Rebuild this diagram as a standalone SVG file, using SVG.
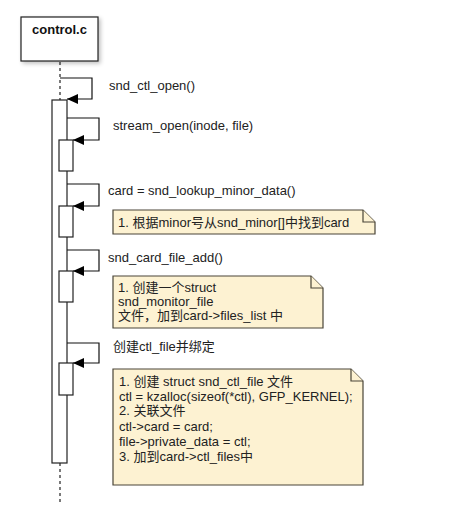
<svg xmlns="http://www.w3.org/2000/svg" width="459" height="505" viewBox="0 0 459 505">
  <style>
    .lbl { font-family: "Liberation Sans", "Noto Sans CJK SC", Arial, sans-serif; font-size: 13px; fill: #222; }
    .hdr { font-family: "Liberation Sans", Arial, sans-serif; font-size: 13px; font-weight: bold; fill: #111; }
    .box { fill: #ffffff; stroke: #222; stroke-width: 1.2; }
    .note { fill: #fdf2d2; stroke: #4a4538; stroke-width: 1.2; }
    .msg { fill: none; stroke: #111; stroke-width: 1.2; }
    .life { stroke: #222; stroke-width: 1.2; stroke-dasharray: 3 3; }
  </style>
  <defs>
    <filter id="shadow" x="-20%" y="-20%" width="150%" height="150%">
      <feGaussianBlur in="SourceAlpha" stdDeviation="2"/>
      <feOffset dx="2" dy="2"/>
      <feComponentTransfer><feFuncA type="linear" slope="0.25"/></feComponentTransfer>
      <feMerge><feMergeNode/><feMergeNode in="SourceGraphic"/></feMerge>
    </filter>
    <marker id="arrow" markerWidth="11" markerHeight="10" refX="11" refY="5" orient="auto" markerUnits="userSpaceOnUse">
      <path d="M0,0 L11,5 L0,10 Z" fill="#000"/>
    </marker>
  </defs>
  <rect width="459" height="505" fill="#ffffff"/>

  <!-- lifeline of control.c -->
  <g id="lifeline">
    <line class="life" x1="60" y1="62" x2="60" y2="100"/>
    <line class="life" x1="60" y1="463" x2="60" y2="502"/>
  </g>

  <g id="control-c">
    <rect class="box" x="21" y="17" width="77" height="44" filter="url(#shadow)"/>
    <text class="hdr" x="59.5" y="34" text-anchor="middle">control.c</text>
  </g>

  <!-- activations -->
  <g id="act-main"><rect class="box" x="52" y="100" width="15" height="363"/></g>
  <g id="act-stream-open"><rect class="box" x="59" y="140" width="14" height="31"/></g>
  <g id="act-lookup"><rect class="box" x="59" y="206" width="14" height="31"/></g>
  <g id="act-file-add"><rect class="box" x="59" y="271" width="14" height="31"/></g>
  <g id="act-ctl-file"><rect class="box" x="59" y="363" width="14" height="32"/></g>

  <!-- self messages -->
  <g id="connectors">
    <path class="msg" d="M60,78 H92 V99 H67" marker-end="url(#arrow)"/>
    <path class="msg" d="M67,118 H99 V140 H73" marker-end="url(#arrow)"/>
    <path class="msg" d="M67,184 H99 V206 H73" marker-end="url(#arrow)"/>
    <path class="msg" d="M67,250 H99 V271 H73" marker-end="url(#arrow)"/>
    <path class="msg" d="M67,343 H99 V363 H73" marker-end="url(#arrow)"/>
  </g>

  <g id="labels">
    <text class="lbl" x="109" y="90">snd_ctl_open()</text>
    <text class="lbl" x="113" y="130">stream_open(inode, file)</text>
    <text class="lbl" x="108" y="195">card = snd_lookup_minor_data()</text>
    <text class="lbl" x="108" y="262">snd_card_file_add()</text>
    <text class="lbl" x="113" y="351">创建ctl_file并绑定</text>
  </g>

  <g id="note-lookup">
    <path class="note" d="M113,210 H363 L375,222 V234 H113 Z"/>
    <path class="note" d="M363,210 V222 H375" fill="none"/>
    <text class="lbl" x="118" y="227">1. 根据minor号从snd_minor[]中找到card</text>
  </g>

  <g id="note-file-add">
    <path class="note" d="M113,276 H311 L323,288 V328 H113 Z"/>
    <path class="note" d="M311,276 V288 H323" fill="none"/>
    <text class="lbl" x="118" y="292">1. 创建一个struct</text>
    <text class="lbl" x="118" y="306">snd_monitor_file</text>
    <text class="lbl" x="118" y="320">文件，加到card-&gt;files_list 中</text>
  </g>

  <g id="note-ctl-file">
    <path class="note" d="M113,369 H351 L363,381 V485 H113 Z"/>
    <path class="note" d="M351,369 V381 H363" fill="none"/>
    <text class="lbl" x="119" y="386">1. 创建 struct snd_ctl_file 文件</text>
    <text class="lbl" x="119" y="401">ctl = kzalloc(sizeof(*ctl), GFP_KERNEL);</text>
    <text class="lbl" x="119" y="415">2. 关联文件</text>
    <text class="lbl" x="119" y="431">ctl-&gt;card = card;</text>
    <text class="lbl" x="119" y="446">file-&gt;private_data = ctl;</text>
    <text class="lbl" x="119" y="461">3. 加到card-&gt;ctl_files中</text>
  </g>
</svg>
